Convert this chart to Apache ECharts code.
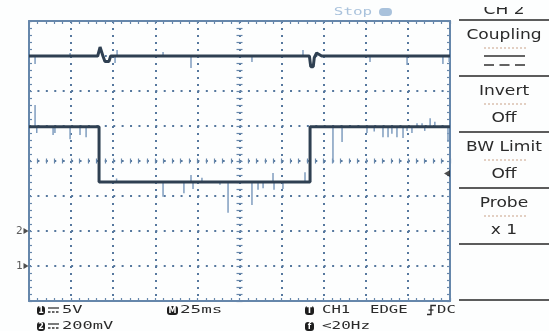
<!DOCTYPE html>
<html>
<head>
<meta charset="utf-8">
<script src="https://cdn.jsdelivr.net/npm/echarts@6/dist/echarts.min.js"></script>
<style>
  html, body { margin: 0; padding: 0; background: #fdfefe; }
  #scope { width: 549px; height: 331px; }
</style>
</head>
<body>
<div id="scope"></div>
<script>
// ---- Acquisition data ----------------------------------------------------
// Time base 25 ms/div, 10 divisions, time zero at screen centre.
const timeRange = [-125, 125];
const timePerDiv = 25;

// CH1, 5 V/div, ground marker 3 divisions below centre.
const ch1Time  = [-125, -83.4, -83.4, 41.9, 41.9, 125];
const ch1Volts = [19.9, 19.9, 12.0, 12.0, 19.9, 19.9];
// CH1 spikes: time, level they leave from, level of the tip
const ch1GlitchTime = [-121.4, -120.4, -110.7, -109.6, -100.6, -94.7, -91.1,
                       -73.0, -45.4, -33.0, -28.8, -27.6, -22.3, -11.6, -6.8, 7.4, 11.0, 14.0, 19.9, 20.5, 25.8, 38.9,
                       55.5, 60.9, 75.7, 80.0, 85.2, 88.2, 90.5, 93.5, 97.1, 99.5, 102.4, 105.4, 108.4, 110.0, 113.2, 116.0, 123.8];
const ch1GlitchBase = [19.9, 19.9, 19.9, 19.9, 19.9, 19.9, 19.9,
                       12.0, 12.0, 12.0, 12.0, 12.0, 12.0, 12.0, 12.0, 12.0, 12.0, 12.0, 12.0, 12.0, 12.0, 12.0,
                       19.9, 19.9, 19.9, 19.9, 19.9, 19.9, 19.9, 19.9, 19.9, 19.9, 19.9, 19.9, 19.9, 19.9, 19.9, 19.9, 19.9];
const ch1GlitchPeak = [23.0, 19.0, 18.7, 19.0, 18.1, 18.7, 18.4,
                       12.5, 9.9, 10.4, 13.0, 11.0, 12.6, 11.6, 7.6, 8.7, 10.9, 11.1, 13.3, 10.9, 11.0, 13.4,
                       14.7, 17.7, 19.0, 19.2, 18.4, 18.4, 18.9, 18.4, 18.3, 19.3, 19.0, 20.4, 20.4, 19.3, 21.1, 20.6, 17.7];

// CH2, 200 mV/div, ground marker 2 divisions below centre.
const ch2Time  = [-125, -84.2, -82.8, -81.1, -79.9, -77.5, -76.5,
                  41.5, 42.3, 43.8, 44.4, 45.8, 48.8, 125];
const ch2Volts = [1.0, 1.0, 1.051, 1.0, 0.969, 0.969, 1.0,
                  1.0, 0.939, 0.939, 0.99, 1.017, 1.0, 1.0];
const ch2GlitchTime = [-121.4, -100.6, -73.9, -72.7, -45.4, -28.8, 7.4, 37.7, 77.5, 99.5, 120.8, 124.5];
const ch2GlitchBase = [1.0, 1.0, 1.0, 1.0, 1.0, 1.0, 1.0, 1.0, 1.0, 1.0, 1.0, 1.0];
const ch2GlitchPeak = [0.954, 1.017, 0.96, 1.034, 1.023, 0.931, 0.966, 1.034, 0.966, 0.949, 0.954, 0.966];

// Reference markers
const groundLabels = ['1', '2'];
const groundVolts = [0, 0];
const triggerLevel = [13.2];

// Menu and status texts
const menuItems = ['Coupling', 'Invert', 'BW Limit', 'Probe'];
const menuValues = ['', 'Off', 'Off', 'x 1'];
const menuTitle = 'CH 2';
const statusText = 'Stop';
const ch1Scale = '5V';
const ch2Scale = '200mV';
const timeScale = '25ms';
const triggerSource = 'CH1';
const triggerType = 'EDGE';
const triggerCoupling = 'DC';
const frequencyText = '<20Hz';

// ---- Styling --------------------------------------------------------------
const borderColor = '#6687ab';
const dotColor = '#56789e';
const traceColor = '#2f4052';
const glitchColor = '#7f9dbf';
const textColor = '#2b2b2b';

const zip = (a, b) => a.map((v, i) => [v, b[i]]);
const zip3 = (a, b, c) => a.map((v, i) => [v, b[i], c[i]]);

function glitchItem(params, api) {
  const a = api.coord([api.value(0), api.value(1)]);
  const b = api.coord([api.value(0), api.value(2)]);
  return {
    type: 'line',
    shape: { x1: a[0], y1: a[1], x2: b[0], y2: b[1] },
    style: { stroke: glitchColor, lineWidth: 1.5 }
  };
}

// Shared pieces for the graticule axes
const tickStyle = { color: borderColor, width: 1.2 };
function xBorder(position, offset, inside, withLine, withSplit, len) {
  return {
    type: 'value', min: timeRange[0], max: timeRange[1], interval: timePerDiv,
    position, offset, gridIndex: 0,
    axisLine: { show: withLine, onZero: false, lineStyle: { color: borderColor, width: 2 } },
    axisTick: { show: true, inside, length: len, lineStyle: tickStyle },
    minorTick: { show: true, splitNumber: 5, length: len, lineStyle: tickStyle },
    axisLabel: { show: false },
    splitLine: { show: withSplit, lineStyle: { color: dotColor, width: 2, type: [2, 5] } }
  };
}
function yBorder(min, max, interval, position, offset, inside, withLine, withSplit, len) {
  return {
    type: 'value', min, max, interval, position, offset, gridIndex: 0,
    axisLine: { show: withLine, onZero: false, lineStyle: { color: borderColor, width: 2 } },
    axisTick: { show: true, inside, length: len, lineStyle: tickStyle },
    minorTick: { show: true, splitNumber: 5, length: len, lineStyle: tickStyle },
    axisLabel: { show: false },
    splitLine: { show: withSplit, lineStyle: { color: dotColor, width: 2, type: [2, 6.42] } }
  };
}

// ---- Text and panel decoration ------------------------------------------
const graphic = [];
function label(text, x, y, opts) {
  graphic.push({
    type: 'text', x, y, scaleX: opts.scaleX || 1, z: 10,
    style: {
      text, fill: opts.color || textColor,
      font: (opts.size || 14) + 'px ' + (opts.family || '"DejaVu Sans"'),
      align: opts.align || 'center', verticalAlign: 'middle'
    }
  });
}
function hline(x1, x2, y, stroke, width, dash) {
  graphic.push({
    type: 'line', z: 10,
    shape: { x1, y1: y, x2, y2: y },
    style: { stroke, lineWidth: width, lineDash: dash || null }
  });
}
function badge(text, x, y, w) {
  graphic.push({
    type: 'rect', z: 10,
    shape: { x, y, width: w, height: 9, r: 3 },
    style: { fill: '#1e1e1e' }
  });
  graphic.push({
    type: 'text', x: x + w / 2, y: y + 4.5, z: 11,
    style: { text, fill: '#ffffff', font: 'bold 8px "DejaVu Sans"', align: 'center', verticalAlign: 'middle' }
  });
}

// Side menu
const menuTop = 20, menuStep = 56, menuX = 504;
for (let i = 0; i <= menuItems.length + 1; i++) hline(459, 549, menuTop + i * menuStep, '#262626', 1.5);
label(menuTitle, menuX, 10, { size: 14, scaleX: 1.22 });
graphic.push({ type: 'rect', z: 12, shape: { x: 459, y: 0, width: 90, height: 7 }, style: { fill: '#fdfefe' } });
menuItems.forEach((item, i) => {
  const y0 = menuTop + i * menuStep;
  label(item, menuX, y0 + 15, { size: 14, scaleX: 1.22 });
  hline(484, 527, y0 + 28, '#c9a187', 1, [2, 2]);
  if (menuValues[i]) label(menuValues[i], menuX, y0 + 42, { size: 14, scaleX: 1.22 });
});
// DC coupling symbol under the first menu entry
hline(484, 525, 56, '#303030', 1.6);
hline(484, 525, 65, '#303030', 1.6, [10, 5.5]);

// Run state
label(statusText, 353, 12, { size: 11, scaleX: 1.45, color: '#a9c2dc', family: '"DejaVu Sans Mono"' });
graphic.push({ type: 'rect', z: 10, shape: { x: 379, y: 8, width: 13, height: 8, r: 4 }, style: { fill: '#a9c2dc' } });

// Bottom status lines
const mono = '"DejaVu Sans Mono"';
badge('1', 37, 306, 8);
badge('2', 37, 322, 8);
[310, 326].forEach(y => { hline(48, 59, y - 2, '#333', 1.3); hline(48, 59, y + 2, '#333', 1.3, [2.5, 1.5]); });
label(ch1Scale, 62, 310, { size: 11, scaleX: 1.55, align: 'left', family: mono });
label(ch2Scale, 62, 326, { size: 11, scaleX: 1.55, align: 'left', family: mono });
badge('M', 167, 306, 11);
label(timeScale, 180, 310, { size: 11, scaleX: 1.6, align: 'left', family: mono });
badge('T', 305, 306, 9);
badge('f', 305, 322, 9);
label(triggerSource, 322, 310, { size: 11, scaleX: 1.42, align: 'left', family: mono });
label(triggerType, 370, 310, { size: 11, scaleX: 1.42, align: 'left', family: mono });
graphic.push({
  type: 'polyline', z: 10,
  shape: { points: [[427, 314.5], [431, 314.5], [431, 305.5], [436, 305.5]] },
  style: { stroke: '#2b2b2b', lineWidth: 1.4, fill: null }
});
hline(428.5, 433.5, 310, '#2b2b2b', 1.2);
label(triggerCoupling, 437, 310, { size: 11, scaleX: 1.42, align: 'left', family: mono });
label(frequencyText, 322, 326, { size: 11, scaleX: 1.45, align: 'left', family: mono });

// ---- Chart ----------------------------------------------------------------
const chart = echarts.init(document.getElementById('scope'), null, { renderer: 'canvas' });
chart.setOption({
  animation: false,
  backgroundColor: '#fdfefe',
  grid: { left: 29, top: 21, width: 421, height: 280, show: false },
  xAxis: [
    xBorder('bottom', 0, true, true, true, 3),
    xBorder('top', 0, true, true, false, 3),
    // centre horizontal axis scale marks, above and below
    xBorder('bottom', -140, true, false, false, 2.5),
    xBorder('bottom', -140, false, false, false, 2.5)
  ],
  yAxis: [
    yBorder(-5, 35, 5, 'left', 0, true, true, true, 3),
    yBorder(-0.4, 1.2, 0.2, 'right', 0, true, true, false, 3),
    // centre vertical axis scale marks, both sides
    yBorder(-5, 35, 5, 'left', -210.5, true, false, false, 3),
    yBorder(-5, 35, 5, 'left', -210.5, false, false, false, 3)
  ],
  graphic,
  series: [
    {
      type: 'custom', name: 'CH1 spikes', xAxisIndex: 0, yAxisIndex: 0, z: 4,
      renderItem: glitchItem, encode: { x: 0, y: [1, 2] },
      data: zip3(ch1GlitchTime, ch1GlitchBase, ch1GlitchPeak)
    },
    {
      type: 'line', name: 'CH1', xAxisIndex: 0, yAxisIndex: 0, z: 5,
      data: zip(ch1Time, ch1Volts), symbol: 'none',
      lineStyle: { color: traceColor, width: 3 }
    },
    {
      type: 'custom', name: 'CH2 spikes', xAxisIndex: 0, yAxisIndex: 1, z: 4,
      renderItem: glitchItem, encode: { x: 0, y: [1, 2] },
      data: zip3(ch2GlitchTime, ch2GlitchBase, ch2GlitchPeak)
    },
    {
      type: 'line', name: 'CH2', xAxisIndex: 0, yAxisIndex: 1, z: 5,
      data: zip(ch2Time, ch2Volts), symbol: 'none',
      lineStyle: { color: traceColor, width: 3 }
    },
    // ground reference markers on the left edge
    {
      type: 'scatter', xAxisIndex: 0, yAxisIndex: 0, clip: false, z: 6,
      data: [[timeRange[0], groundVolts[0]]],
      symbol: 'triangle', symbolRotate: -90, symbolSize: [6, 5], symbolOffset: [-3, 0],
      itemStyle: { color: '#222' },
      label: { show: true, position: 'left', distance: 1, formatter: groundLabels[0], color: '#333', fontSize: 11, fontFamily: 'DejaVu Sans Mono' }
    },
    {
      type: 'scatter', xAxisIndex: 0, yAxisIndex: 1, clip: false, z: 6,
      data: [[timeRange[0], groundVolts[1]]],
      symbol: 'triangle', symbolRotate: -90, symbolSize: [6, 5], symbolOffset: [-3, 0],
      itemStyle: { color: '#222' },
      label: { show: true, position: 'left', distance: 1, formatter: groundLabels[1], color: '#333', fontSize: 11, fontFamily: 'DejaVu Sans Mono' }
    },
    // trigger level marker on the right edge
    {
      type: 'scatter', xAxisIndex: 0, yAxisIndex: 0, clip: false, z: 6,
      data: [[timeRange[1], triggerLevel[0]]],
      symbol: 'triangle', symbolRotate: 90, symbolSize: [7, 6], symbolOffset: [-3, 0],
      itemStyle: { color: '#222' }
    }
  ]
});
</script>
</body>
</html>
